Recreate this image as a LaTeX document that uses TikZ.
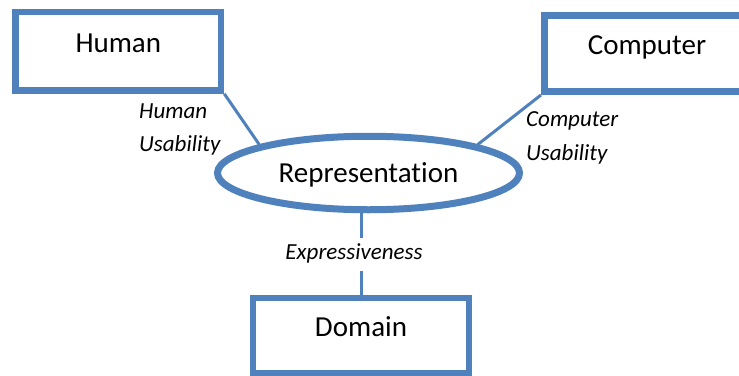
\documentclass[tikz,border=0pt]{standalone}
\usepackage{fontspec}
\setmainfont{Carlito}[Ligatures=CommonOff]
\usetikzlibrary{shapes.geometric}
\definecolor{officeblue}{RGB}{79,129,189}
\begin{document}
\begin{tikzpicture}[x=1pt,y=-1pt,
  box/.style={draw=officeblue, line width=6.5pt, rectangle, inner sep=0pt,
    font=\fontsize{29}{34}\selectfont, text height=19pt, text depth=17pt},
  oval/.style={draw=officeblue, line width=7pt, ellipse, inner sep=0pt,
    minimum width=302pt, minimum height=73.5pt,
    font=\fontsize{29}{34}\selectfont, text height=18.7pt, text depth=0pt},
  link/.style={draw=officeblue, line width=3pt},
  tag/.style={font=\fontsize{23}{33.4}\selectfont\itshape, inner sep=0pt, align=left}
]
\useasboundingbox (0,0) rectangle (739,375);
\clip (0,0) rectangle (739,375);

% the three outer boxes
\node[box, minimum width=205.5pt, minimum height=78.5pt] (human) at (118.3,51.3) {Human};
\node[box, minimum width=205.5pt, minimum height=76pt] (computer) at (647,53.7) {Computer};
\node[box, minimum width=215.7pt, minimum height=75.5pt] (domain) at (361,335.8) {Domain};

% the central representation
\node[oval] (rep) at (368.5,173) {Representation};

% connectors
\draw[link] (human.south east) -- (rep.north west);
\draw[link] (computer.south west) -- (rep.north east);
\draw[link] (rep.south -| domain.north) -- (domain.north);

% connector labels (anchored at the baseline of their second line)
\node[tag, anchor=base west] (hu) at (139,151.7) {Human\\Usability};
\node[tag, anchor=base west] (cu) at (526,160) {Computer\\Usability};
\node[tag, anchor=base, fill=white, inner xsep=3pt, text height=17pt, text depth=8pt, inner ysep=4pt]
  (ex) at (354,259.3) {Expressiveness};
\end{tikzpicture}
\end{document}
